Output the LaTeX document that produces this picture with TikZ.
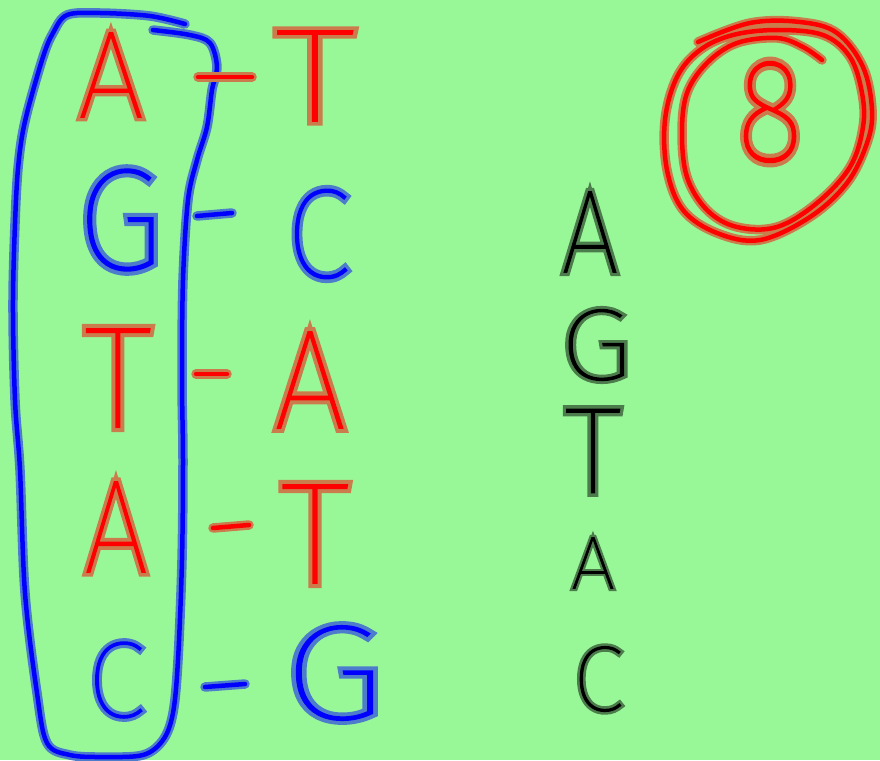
\documentclass[tikz,border=0pt]{standalone}
\usepackage{fontspec}
\usepackage{graphicx}
\newfontfamily\corefam{Fira Sans Thin}[FakeBold=1.3]
\newfontfamily\halofam{Fira Sans Thin}[FakeBold=7]
\definecolor{bg}{RGB}{152,248,152}
\definecolor{pen red}{RGB}{255,0,0}
\definecolor{pen blue}{RGB}{0,0,255}
\definecolor{pen black}{RGB}{0,0,0}
\tikzset{
  lt/.style={inner sep=0pt, outer sep=0pt},
  halo/.style={line width=9.5pt, line cap=round, line join=round, draw=#1!50!bg},
  core/.style={line width=4.5pt, line cap=round, line join=round, draw=#1},
}
\newcommand{\Ltr}[7]{%
  \node[lt, text=#6!50!bg] at (#2,#3) {\resizebox{#4pt}{#5pt}{\halofam\fontsize{120}{120}\selectfont #7}};
  \node[lt, text=#6] (#1) at (#2,#3) {\resizebox{#4pt}{#5pt}{\corefam\fontsize{120}{120}\selectfont #7}};}
\newcommand{\Stroke}[2]{%
  \draw[halo=#1] #2;
  \draw[core=#1] #2;}
\begin{document}
\begin{tikzpicture}[x=1pt,y=-1pt]
\fill[bg] (0,0) rectangle (880,760);
\useasboundingbox (0,0) rectangle (880,760);
% blue box round the left strand
\Stroke{pen blue}{plot[smooth, tension=0.55] coordinates {(185,24) (150,16) (100,13) (67,15) (53,33) (43,57) (27,113) (20,150) (16,200) (13,300) (15,400) (20,470) (25,593) (37,693) (47,743) (70,755) (103,757) (143,755) (163,740) (173,713) (178,660) (182,560) (183,460) (182,380) (183,280) (188,200) (197,160) (207,127) (212,90) (217,67) (210,43) (190,35) (153,30)}}
% red circles round the 8
\Stroke{pen red}{plot[smooth, tension=0.6] coordinates {(698,42) (750,23) (800,22) (837,33) (863,67) (872,110) (867,143) (847,183) (810,217) (760,240) (717,233) (683,210) (667,170) (665,120) (677,77) (700,50) (733,35) (777,30) (823,35) (850,57) (862,93) (863,127) (850,167) (817,203) (777,227) (737,227) (707,210) (687,177) (682,133) (687,93) (707,63) (737,43) (777,38) (803,47) (822,60)}}
% left strand
\Ltr{lA1}{111}{75}{66}{84}{pen red}{A}
\Ltr{lG2}{120}{220}{86}{100}{pen blue}{G}
\Ltr{lT3}{118}{378}{67}{98}{pen red}{T}
\Ltr{lA4}{116}{527}{64}{90}{pen red}{A}
\Ltr{lC5}{116}{680}{57}{75}{pen blue}{C}
% right strand
\Ltr{rT1}{315}{76}{79}{90}{pen red}{T}
\Ltr{rC2}{318}{234}{63}{88}{pen blue}{C}
\Ltr{rA3}{310}{380}{72}{96}{pen red}{A}
\Ltr{rT4}{315}{534}{68}{98}{pen red}{T}
\Ltr{rG5}{334}{673}{100}{93}{pen blue}{G}
% black copy
\Ltr{bA1}{590}{232}{57}{80}{pen black}{A}
\Ltr{bG2}{596}{345}{72}{70}{pen black}{G}
\Ltr{bT3}{593}{451}{56}{83}{pen black}{T}
\Ltr{bA4}{593}{563}{44}{51}{pen black}{A}
\Ltr{bC5}{598}{679}{50}{64}{pen black}{C}
% the 8
\Ltr{eight}{770}{112}{67}{99}{pen red}{8}
% bonds
\coordinate (d1s) at (198,77);  \coordinate (d1e) at (252,77);
\coordinate (d2s) at (197,216); \coordinate (d2e) at (232,213);
\coordinate (d3s) at (196,374); \coordinate (d3e) at (227,374);
\coordinate (d4s) at (213,528); \coordinate (d4e) at (249,525);
\coordinate (d5s) at (205,687); \coordinate (d5e) at (245,684);
\Stroke{pen red}{(d1s) -- (d1e)}
\Stroke{pen blue}{(d2s) -- (d2e)}
\Stroke{pen red}{(d3s) -- (d3e)}
\Stroke{pen red}{(d4s) -- (d4e)}
\Stroke{pen blue}{(d5s) -- (d5e)}
\end{tikzpicture}
\end{document}
